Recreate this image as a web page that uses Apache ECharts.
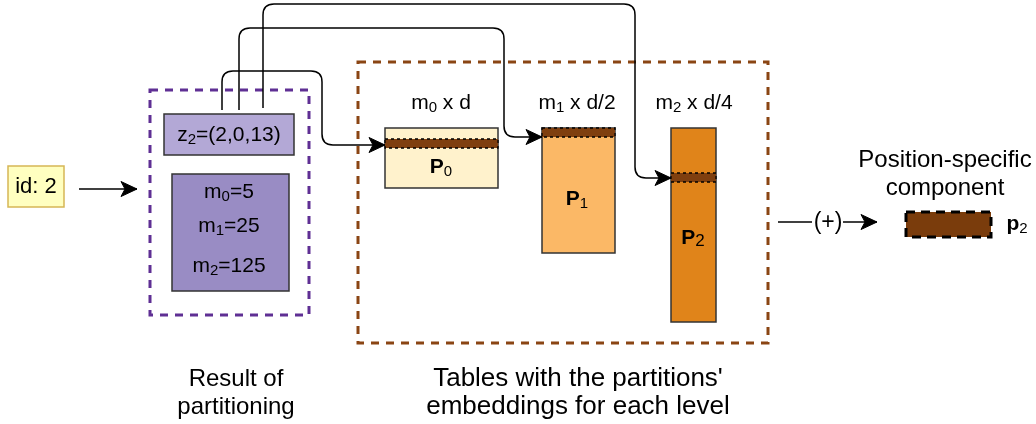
<!DOCTYPE html>
<html>
<head>
<meta charset="utf-8">
<script src="https://cdn.jsdelivr.net/npm/echarts@6/dist/echarts.min.js"></script>
<style>
  html, body { margin: 0; padding: 0; background: #fff; }
  #main { width: 1036px; height: 424px; }
</style>
</head>
<body>
<div id="main"></div>
<script>
// diagram drawn on a hidden value grid: x 0..1036, y 0..424 (y down)
// boxes: [x0, y0, x1, y1]
var boxes = [
  [8, 166, 64, 207],     // id: 2
  [164, 114, 294, 155],  // z2
  [172, 174, 289, 291],  // m values
  [385, 128, 498, 188],  // P0
  [542, 128, 615, 253],  // P1
  [671, 128, 716, 322]   // P2
]
var boxFill = ['#ffffc0', '#b3a8d6', '#998cc4', '#fff2cc', '#fbb866', '#e0841a']
var boxStroke = ['#d6b656', '#333333', '#333333', '#333333', '#333333', '#333333']

// dashed group frames
var groups = [
  [150, 90, 309, 315],
  [358, 62, 768, 343]
]
var groupColor = ['#5f2f94', '#8a4513']

// looked-up rows inside each table
var rows = [
  [385, 139, 498, 148],
  [542, 128, 615, 137],
  [671, 173, 716, 182]
]
// resulting component
var result = [906, 212, 991, 237]

// connectors (polyline points), the last point is the arrow tip
var connectors = [
  [[222, 110], [222, 71], [322, 71], [322, 145], [385, 145]],
  [[239, 110], [239, 28], [504, 28], [504, 137], [542, 137]],
  [[263, 108], [263, 4], [635, 4], [635, 178], [671, 178]],
  [[79, 189], [137, 189]],
  [[843, 222], [877, 222]]
]
var plainLines = [
  [[778, 222], [812, 222]]
]

// texts: [rich text, x, y]
var texts = [
  ['{id|id: 2}', 36, 187],
  ['{n|z}{s|2}{n|=(2,0,13)}', 229, 135],
  ['{n|m}{s|0}{n|=5}', 229, 192],
  ['{n|m}{s|1}{n|=25}', 229, 226],
  ['{n|m}{s|2}{n|=125}', 229, 266],
  ['{n|m}{s|0}{n| x d}', 441, 103],
  ['{n|m}{s|1}{n| x d/2}', 577, 103],
  ['{n|m}{s|2}{n| x d/4}', 694, 103],
  ['{b|P}{bs|0}', 441, 167],
  ['{b|P}{bs|1}', 577, 199],
  ['{b|P}{bs2|2}', 693, 238],
  ['{plus|(+)}', 828, 223],
  ['{b|p}{bs|2}', 1017, 224],
  ['{big|Position-specific}\n{big|component}', 945, 174],
  ['{lab|Result of}\n{lab|partitioning}', 236, 393],
  ['{lab2|Tables with the partitions\'}\n{lab2|embeddings for each level}', 578, 393]
]

var FONT = '"Liberation Sans", Arial, sans-serif'
var rich = {
  n: { fontSize: 21, fontFamily: FONT, lineHeight: 25, color: '#000' },
  id: { fontSize: 22, fontFamily: FONT, lineHeight: 25, color: '#000' },
  s: { fontSize: 15, fontFamily: FONT, lineHeight: 15, verticalAlign: 'bottom', color: '#000' },
  b: { fontSize: 21, fontFamily: FONT, fontWeight: 'bold', lineHeight: 24, color: '#000' },
  bs: { fontSize: 15, fontFamily: FONT, lineHeight: 15, verticalAlign: 'bottom', color: '#000' },
  bs2: { fontSize: 17, fontFamily: FONT, lineHeight: 19, verticalAlign: 'bottom', color: '#000' },
  plus: { fontSize: 23, fontFamily: FONT, lineHeight: 26, color: '#000' },
  big: { fontSize: 24, fontFamily: FONT, lineHeight: 28, color: '#000' },
  lab: { fontSize: 24, fontFamily: FONT, lineHeight: 28, color: '#000' },
  lab2: { fontSize: 26, fontFamily: FONT, lineHeight: 28, color: '#000' }
}

function idx (arr) {
  return arr.map(function (d, i) { return [i] })
}

function rectOf (api, b) {
  var p0 = api.coord([b[0], b[1]])
  var p1 = api.coord([b[2], b[3]])
  return { x: p0[0], y: p0[1], width: p1[0] - p0[0], height: p1[1] - p0[1] }
}

// path with rounded corners through the given pixel points
function roundedPath (pts, r) {
  var d = 'M' + pts[0][0] + ',' + pts[0][1]
  for (var i = 1; i < pts.length - 1; i++) {
    var a = pts[i - 1]; var c = pts[i]; var n = pts[i + 1]
    var l1 = Math.hypot(c[0] - a[0], c[1] - a[1])
    var l2 = Math.hypot(n[0] - c[0], n[1] - c[1])
    var rr = Math.min(r, l1 / 2, l2 / 2)
    var s = [c[0] + (a[0] - c[0]) * rr / l1, c[1] + (a[1] - c[1]) * rr / l1]
    var e = [c[0] + (n[0] - c[0]) * rr / l2, c[1] + (n[1] - c[1]) * rr / l2]
    d += 'L' + s[0] + ',' + s[1] + 'Q' + c[0] + ',' + c[1] + ',' + e[0] + ',' + e[1]
  }
  var last = pts[pts.length - 1]
  d += 'L' + last[0] + ',' + last[1]
  return d
}

function arrowHead (tip, from) {
  var dx = tip[0] - from[0]; var dy = tip[1] - from[1]
  var len = Math.hypot(dx, dy); var ux = dx / len; var uy = dy / len
  var L = 16; var W = 7.5; var notch = 12
  return [
    tip,
    [tip[0] - ux * L - uy * W, tip[1] - uy * L + ux * W],
    [tip[0] - ux * notch, tip[1] - uy * notch],
    [tip[0] - ux * L + uy * W, tip[1] - uy * L - ux * W]
  ]
}

var myChart = echarts.init(document.getElementById('main'))

var option = {
  animation: false,
  backgroundColor: '#ffffff',
  grid: { left: 0, right: 0, top: 0, bottom: 0 },
  xAxis: { type: 'value', min: 0, max: 1036, show: false },
  yAxis: { type: 'value', min: 0, max: 424, inverse: true, show: false },
  series: [
    {
      // dashed group frames
      type: 'custom',
      data: idx(groups),
      renderItem: function (params, api) {
        var i = api.value(0)
        return {
          type: 'rect',
          shape: rectOf(api, groups[i]),
          style: { fill: 'none', stroke: groupColor[i], lineWidth: 3, lineDash: [8, 7] }
        }
      }
    },
    {
      // boxes
      type: 'custom',
      data: idx(boxes),
      renderItem: function (params, api) {
        var i = api.value(0)
        return {
          type: 'rect',
          shape: rectOf(api, boxes[i]),
          style: { fill: boxFill[i], stroke: boxStroke[i], lineWidth: 1.5 }
        }
      }
    },
    {
      // selected rows
      type: 'custom',
      data: idx(rows),
      renderItem: function (params, api) {
        var i = api.value(0)
        return {
          type: 'rect',
          shape: rectOf(api, rows[i]),
          style: { fill: '#7f3f0f', stroke: '#000', lineWidth: 1.3, lineDash: [3, 3] }
        }
      }
    },
    {
      // result component
      type: 'custom',
      data: [[0]],
      renderItem: function (params, api) {
        return {
          type: 'rect',
          shape: rectOf(api, result),
          style: { fill: '#7a3c0c', stroke: '#000', lineWidth: 3, lineDash: [9, 6] }
        }
      }
    },
    {
      // connectors with arrows
      type: 'custom',
      data: idx(connectors),
      renderItem: function (params, api) {
        var i = api.value(0)
        var pts = connectors[i].map(function (p) { return api.coord(p) })
        return {
          type: 'group',
          children: [{
            type: 'path',
            shape: { pathData: roundedPath(pts, 11) },
            style: { fill: 'none', stroke: '#000', lineWidth: 1.5 }
          }, {
            type: 'polygon',
            shape: { points: arrowHead(pts[pts.length - 1], pts[pts.length - 2]) },
            style: { fill: '#000', stroke: '#000', lineWidth: 1 }
          }]
        }
      }
    },
    {
      type: 'custom',
      data: idx(plainLines),
      renderItem: function (params, api) {
        var i = api.value(0)
        var pts = plainLines[i].map(function (p) { return api.coord(p) })
        return {
          type: 'polyline',
          shape: { points: pts },
          style: { fill: 'none', stroke: '#000', lineWidth: 1.5 }
        }
      }
    },
    {
      // texts
      type: 'custom',
      data: idx(texts),
      renderItem: function (params, api) {
        var i = api.value(0)
        var p = api.coord([texts[i][1], texts[i][2]])
        return {
          type: 'text',
          x: p[0],
          y: p[1],
          style: {
            text: texts[i][0],
            rich: rich,
            align: 'center',
            verticalAlign: 'middle'
          }
        }
      }
    }
  ]
}

myChart.setOption(option)
</script>
</body>
</html>
